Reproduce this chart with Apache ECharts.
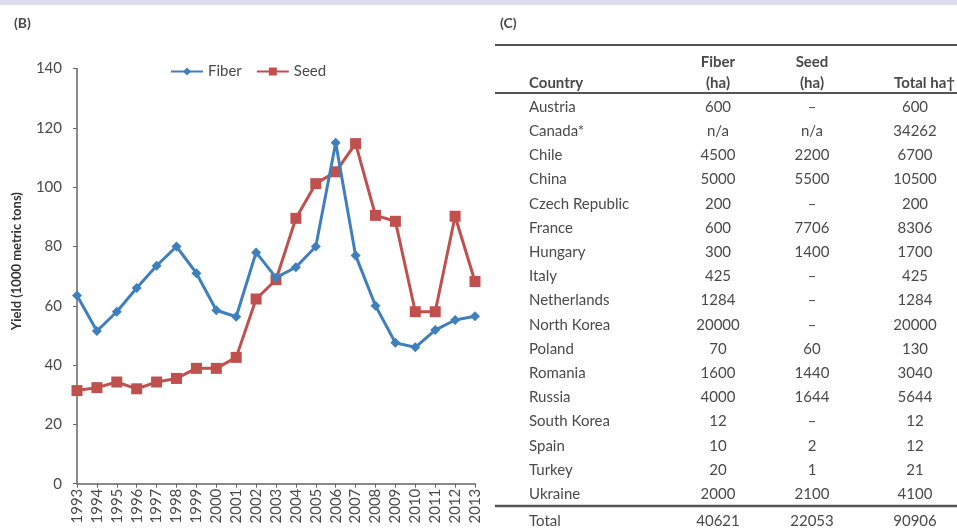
<!DOCTYPE html>
<html>
<head>
<meta charset="utf-8">
<script src="https://cdn.jsdelivr.net/npm/echarts@6/dist/echarts.min.js"></script>
<style>
  html, body { margin: 0; padding: 0; background: #fff; }
  #chart { width: 957px; height: 531px; }
</style>
</head>
<body>
<div id="chart"></div>
<script>
// panel (B): yield by year
const years = ["1993", "1994", "1995", "1996", "1997", "1998", "1999", "2000", "2001", "2002", "2003",
  "2004", "2005", "2006", "2007", "2008", "2009", "2010", "2011", "2012", "2013"];
const fiberYield = [63.5, 51.5, 58, 66, 73.5, 80, 71, 58.5, 56.3, 78, 69.5,
  73, 80, 115, 77, 60, 47.5, 46, 51.8, 55.2, 56.5];
const seedYield = [31.4, 32.4, 34.3, 32, 34.3, 35.5, 38.9, 38.9, 42.6, 62.3, 68.8,
  89.5, 101.2, 105.2, 114.7, 90.5, 88.5, 58, 58, 90.2, 68.2];
const yTicks = [0, 20, 40, 60, 80, 100, 120, 140];

// panel (C): area table
const countries = ["Austria", "Canada*", "Chile", "China", "Czech Republic", "France", "Hungary", "Italy",
  "Netherlands", "North Korea", "Poland", "Romania", "Russia", "South Korea", "Spain", "Turkey", "Ukraine"];
const fiberHa = ["600", "n/a", "4500", "5000", "200", "600", "300", "425", "1284", "20000",
  "70", "1600", "4000", "12", "10", "20", "2000"];
const seedHa = ["–", "n/a", "2200", "5500", "–", "7706", "1400", "–", "–", "–",
  "60", "1440", "1644", "–", "2", "1", "2100"];
const totalHa = ["600", "34262", "6700", "10500", "200", "8306", "1700", "425", "1284", "20000",
  "130", "3040", "5644", "12", "12", "21", "4100"];
const totals = ["Total", "40621", "22053", "90906"];

const font = 'Lato, "Open Sans", sans-serif';
const txtColor = "#4a4a4a";

const chart = echarts.init(document.getElementById("chart"));

// build table text
const rowTop = 107;
const rowStep = 24.2;
const colX = { country: 529, fiber: 718, seed: 812, total: 915 };
const tableGraphics = [];

function cell(x, y, text, align, bold, size) {
  return {
    type: "text",
    x: x,
    y: y,
    style: {
      text: text,
      font: (bold ? "bold " : "") + (size || 15) + "px " + font,
      fill: txtColor,
      align: align,
      verticalAlign: "middle",
    },
  };
}

function rule(y, w) {
  return {
    type: "line",
    shape: { x1: 495, y1: y, x2: 957, y2: y },
    style: { stroke: "#555", lineWidth: w },
  };
}

countries.forEach((c, i) => {
  const y = rowTop + i * rowStep;
  tableGraphics.push(cell(colX.country, y, c, "left"));
  tableGraphics.push(cell(colX.fiber, y, fiberHa[i], "center"));
  tableGraphics.push(cell(colX.seed, y, seedHa[i], "center"));
  tableGraphics.push(cell(colX.total, y, totalHa[i], "center"));
});
tableGraphics.push(cell(colX.country, 521, totals[0], "left"));
tableGraphics.push(cell(colX.fiber, 521, totals[1], "center"));
tableGraphics.push(cell(colX.seed, 521, totals[2], "center"));
tableGraphics.push(cell(colX.total, 521, totals[3], "center"));

// header
tableGraphics.push(cell(colX.country, 83, "Country", "left", true));
tableGraphics.push(cell(colX.fiber, 62, "Fiber", "center", true));
tableGraphics.push(cell(colX.fiber, 83, "(ha)", "center", true));
tableGraphics.push(cell(colX.seed, 62, "Seed", "center", true));
tableGraphics.push(cell(colX.seed, 83, "(ha)", "center", true));
tableGraphics.push(cell(955, 83, "Total ha†", "right", true));

tableGraphics.push(rule(45, 2));
tableGraphics.push(rule(93, 2));
tableGraphics.push(rule(506, 2.5));

chart.setOption({
  backgroundColor: "#fff",
  animation: false,
  textStyle: { fontFamily: font },
  graphic: [
    {
      type: "rect",
      shape: { x: 0, y: 0, width: 957, height: 5 },
      style: { fill: "#dcdcf2" },
    },
    cell(14, 23, "(B)", "left", true, 14),
    cell(500, 23, "(C)", "left", true, 14),
  ].concat(tableGraphics),
  legend: {
    left: 170,
    top: 64,
    padding: 0,
    itemWidth: 32,
    itemHeight: 10,
    itemGap: 14,
    textStyle: { fontSize: 15, color: txtColor, fontFamily: font },
    data: ["Fiber", "Seed"],
  },
  grid: {
    left: 77,
    right: 482,
    top: 68.6,
    bottom: 47.3,
    containLabel: false,
  },
  xAxis: {
    type: "category",
    data: years,
    boundaryGap: false,
    axisLine: { lineStyle: { color: "#666", width: 1.5 } },
    axisTick: { show: true, length: 4, lineStyle: { color: "#666" } },
    axisLabel: {
      rotate: 90,
      margin: 5,
      fontSize: 15,
      color: txtColor,
      interval: 0,
    },
  },
  yAxis: {
    type: "value",
    min: 0,
    max: 140,
    interval: 20,
    name: "Yield (1000 metric tons)",
    nameLocation: "middle",
    nameGap: 54,
    nameTextStyle: {
      fontSize: 13,
      fontWeight: "bold",
      color: "#333",
      padding: [0, 0, 0, 30],
    },
    axisLine: { show: true, lineStyle: { color: "#666", width: 1.5 } },
    axisTick: { show: true, length: 4, lineStyle: { color: "#666" } },
    axisLabel: {
      fontSize: 15,
      color: txtColor,
      margin: 15,
      customValues: yTicks,
    },
    splitLine: { show: false },
  },
  series: [
    {
      name: "Fiber",
      type: "line",
      data: fiberYield,
      symbol: "diamond",
      symbolSize: 10,
      color: "#3f7fbc",
      lineStyle: { width: 3, color: "#3f7fbc" },
      itemStyle: { color: "#3f7fbc" },
      z: 3,
    },
    {
      name: "Seed",
      type: "line",
      data: seedYield,
      symbol: "rect",
      symbolSize: 11,
      color: "#c0504d",
      lineStyle: { width: 3, color: "#c0504d" },
      itemStyle: { color: "#c0504d" },
      z: 2,
    },
  ],
});
</script>
</body>
</html>
